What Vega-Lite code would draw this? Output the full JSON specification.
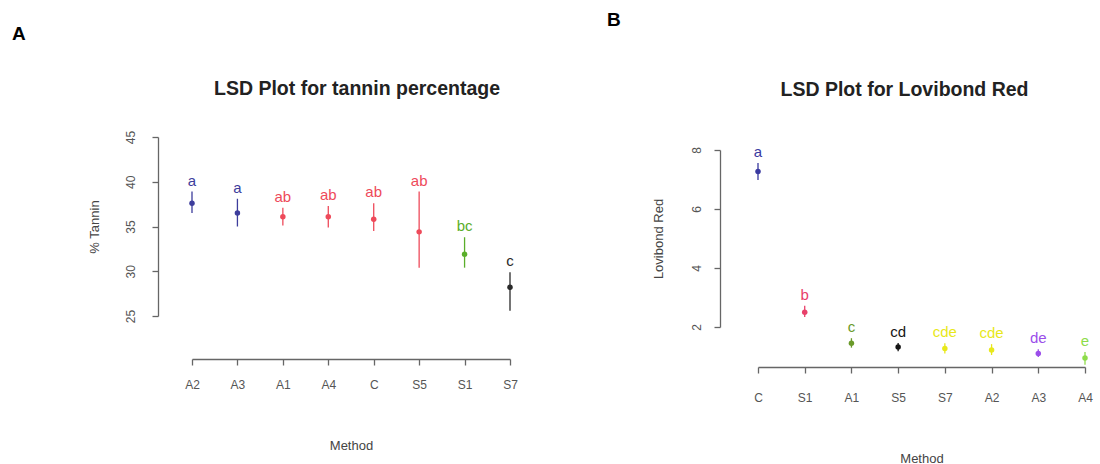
{
  "$schema": "https://vega.github.io/schema/vega-lite/v6.json",
  "background": "white",
  "padding": {"left": 12, "top": 9, "right": 5, "bottom": 0},
  "config": {
    "view": {"stroke": null},
    "font": "Liberation Sans",
    "axis": {
      "grid": false,
      "domainColor": "#666666",
      "tickColor": "#666666",
      "domainWidth": 1.3,
      "tickWidth": 1.3,
      "tickSize": 6,
      "labelColor": "#555555",
      "labelFontSize": 12,
      "titleColor": "#444444",
      "titleFontSize": 13,
      "titleFontWeight": "normal"
    },
    "title": {"color": "#222222"}
  },
  "datasets": {
    "tannin": [
      {"method": "A2", "mean": 37.6, "lower": 36.5, "upper": 38.9, "grp": "a"},
      {"method": "A3", "mean": 36.5, "lower": 35.0, "upper": 38.1, "grp": "a"},
      {"method": "A1", "mean": 36.1, "lower": 35.1, "upper": 37.1, "grp": "ab"},
      {"method": "A4", "mean": 36.1, "lower": 34.9, "upper": 37.3, "grp": "ab"},
      {"method": "C", "mean": 35.8, "lower": 34.5, "upper": 37.6, "grp": "ab"},
      {"method": "S5", "mean": 34.4, "lower": 30.4, "upper": 38.9, "grp": "ab"},
      {"method": "S1", "mean": 31.9, "lower": 30.4, "upper": 33.8, "grp": "bc"},
      {"method": "S7", "mean": 28.2, "lower": 25.6, "upper": 29.9, "grp": "c"}
    ],
    "lovibond": [
      {"method": "C", "mean": 7.27, "lower": 6.98, "upper": 7.56, "grp": "a"},
      {"method": "S1", "mean": 2.5, "lower": 2.34, "upper": 2.72, "grp": "b"},
      {"method": "A1", "mean": 1.45, "lower": 1.3, "upper": 1.62, "grp": "c"},
      {"method": "S5", "mean": 1.32, "lower": 1.18, "upper": 1.46, "grp": "cd"},
      {"method": "S7", "mean": 1.27, "lower": 1.1, "upper": 1.45, "grp": "cde"},
      {"method": "A2", "mean": 1.22, "lower": 1.05, "upper": 1.42, "grp": "cde"},
      {"method": "A3", "mean": 1.1, "lower": 0.98, "upper": 1.25, "grp": "de"},
      {"method": "A4", "mean": 0.95, "lower": 0.72, "upper": 1.15, "grp": "e"}
    ]
  },
  "columns": 2,
  "align": "none",
  "spacing": 89,
  "resolve": {"scale": {"x": "independent", "y": "independent", "color": "independent"}},
  "concat": [
    {
      "title": {"text": ["", "A"], "lineHeight": 15, "anchor": "start", "dx": -76, "offset": 35, "fontSize": 19, "fontWeight": "bold", "color": "#000000", "font": "Liberation Sans"},
      "vconcat": [
        {
          "width": 318,
          "height": 179,
          "title": {"text": "LSD Plot for tannin percentage", "fontSize": 19.5, "fontWeight": "bold", "offset": 31, "dx": 6, "font": "Liberation Sans"},
          "data": {"name": "tannin"},
          "encoding": {
            "x": {
              "field": "method", "type": "ordinal",
              "scale": {"type": "point", "padding": 0, "domain": ["A2", "A3", "A1", "A4", "C", "S5", "S1", "S7"]},
              "axis": {"title": "Method", "labelAngle": 0, "offset": 43, "labelPadding": 14, "titlePadding": 49}
            }
          },
          "layer": [
            {
              "mark": {"type": "rule", "strokeWidth": 1.3},
              "encoding": {
                "y": {"field": "lower", "type": "quantitative", "scale": {"domain": [25, 45], "nice": false, "zero": false},
                  "axis": {"title": "% Tannin", "values": [25, 30, 35, 40, 45], "offset": 34, "labelAngle": -90, "labelAlign": "center", "labelBaseline": "bottom", "labelPadding": 15, "titlePadding": 23}},
                "y2": {"field": "upper"},
                "color": {"field": "grp", "type": "nominal", "legend": null,
                  "scale": {"domain": ["a", "ab", "bc", "c"], "range": ["#3d3d9c", "#ee4a5a", "#5aae2a", "#2a2a2a"]}}
              }
            },
            {
              "mark": {"type": "point", "filled": true, "size": 30, "opacity": 1},
              "encoding": {
                "y": {"field": "mean", "type": "quantitative"},
                "color": {"field": "grp", "type": "nominal", "legend": null}
              }
            },
            {
              "mark": {"type": "text", "baseline": "bottom", "dy": -3, "fontSize": 15},
              "encoding": {
                "y": {"field": "upper", "type": "quantitative"},
                "text": {"field": "grp"},
                "color": {"field": "grp", "type": "nominal", "legend": null}
              }
            }
          ]
        }
      ]
    },
    {
      "title": {"text": "B", "anchor": "start", "dx": -45, "offset": 50, "fontSize": 19, "fontWeight": "bold", "color": "#000000", "font": "Liberation Sans"},
      "vconcat": [
        {
          "width": 327,
          "height": 190,
          "title": {"text": "LSD Plot for Lovibond Red", "fontSize": 19.5, "fontWeight": "bold", "offset": 37, "dx": -17, "font": "Liberation Sans"},
          "data": {"name": "lovibond"},
          "encoding": {
            "x": {
              "field": "method", "type": "ordinal",
              "scale": {"type": "point", "padding": 0, "domain": ["C", "S1", "A1", "S5", "S7", "A2", "A3", "A4"]},
              "axis": {"title": "Method", "labelAngle": 0, "offset": 40, "labelPadding": 19, "titlePadding": 49}
            }
          },
          "layer": [
            {
              "mark": {"type": "rule", "strokeWidth": 1.3},
              "encoding": {
                "y": {"field": "lower", "type": "quantitative", "scale": {"domain": [2, 8], "range": [190, 13], "nice": false, "zero": false},
                  "axis": {"title": "Lovibond Red", "values": [2, 4, 6, 8], "offset": 38, "labelAngle": -90, "labelAlign": "center", "labelBaseline": "bottom", "labelPadding": 11, "titlePadding": 25}},
                "y2": {"field": "upper"},
                "color": {"field": "grp", "type": "nominal", "legend": null,
                  "scale": {"domain": ["a", "b", "c", "cd", "cde", "de", "e"], "range": ["#3a3aa0", "#e8406a", "#6a9a2a", "#151515", "#e8e81a", "#9b4dea", "#8edc4a"]}}
              }
            },
            {
              "mark": {"type": "point", "filled": true, "size": 30, "opacity": 1},
              "encoding": {
                "y": {"field": "mean", "type": "quantitative"},
                "color": {"field": "grp", "type": "nominal", "legend": null}
              }
            },
            {
              "mark": {"type": "text", "baseline": "bottom", "dy": -3, "fontSize": 15},
              "encoding": {
                "y": {"field": "upper", "type": "quantitative"},
                "text": {"field": "grp"},
                "color": {"field": "grp", "type": "nominal", "legend": null}
              }
            }
          ]
        }
      ]
    }
  ]
}
